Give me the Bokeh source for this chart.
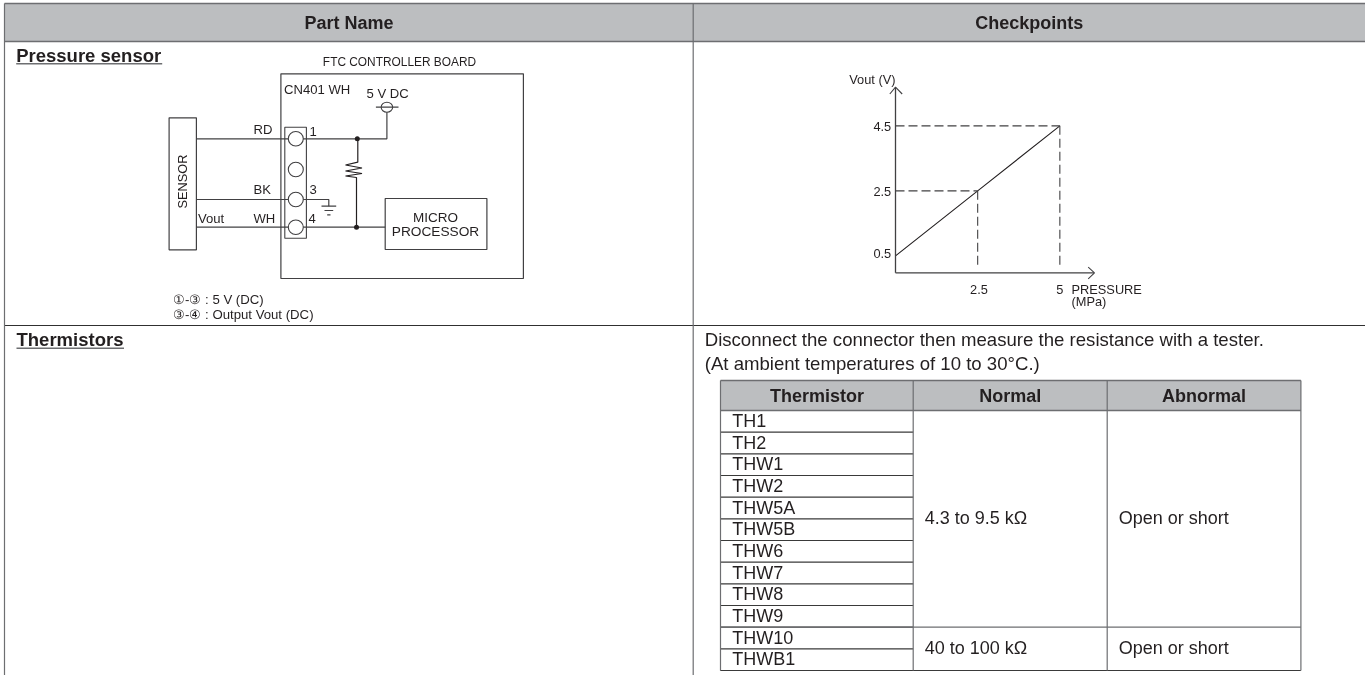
from bokeh.plotting import figure
from bokeh.models import Range1d
from bokeh.core.properties import value
from bokeh.embed import file_html
from bokeh.resources import INLINE
import math

# ---------- data / text ----------
col_headers = ["Part Name", "Checkpoints"]
row_titles = ["Pressure sensor", "Thermistors"]
pressure_mpa = [0, 2.5, 5]
vout_v = [0.5, 2.5, 4.5]
x_tick_values = [2.5, 5]
x_tick_labels = ["2.5", "5"]
y_tick_values = [4.5, 2.5, 0.5]
y_tick_labels = ["4.5", "2.5", "0.5"]
therm_headers = ["Thermistor", "Normal", "Abnormal"]
thermistors = ["TH1", "TH2", "THW1", "THW2", "THW5A", "THW5B", "THW6", "THW7", "THW8", "THW9", "THW10", "THWB1"]
group_rows = [10, 2]
normal_values = ["4.3 to 9.5 k\u03a9", "40 to 100 k\u03a9"]
abnormal_values = ["Open or short", "Open or short"]
notes = ["Disconnect the connector then measure the resistance with a tester.",
         "(At ambient temperatures of 10 to 30\u00b0C.)"]
legend_notes = ["\u2460-\u2462 : 5 V (DC)", "\u2462-\u2463 : Output Vout (DC)"]

# ---------- canvas in page pixels ----------
W, H = 1365, 675
p = figure(width=W, height=H, x_range=Range1d(0, W), y_range=Range1d(H, 0),
           x_axis_type=None, y_axis_type=None, toolbar_location=None,
           output_backend="svg", min_border=0, outline_line_color=None,
           background_fill_color="white", border_fill_color="white",
           styles={"position": "fixed", "left": "0px", "top": "0px"})
p.grid.visible = False

INK = "#231f20"
GRAY = "#6d6e71"
LINE = "#414042"
FILL = "#bcbec0"
FONT = value("Liberation Sans")


def txt(x, y, s, size, align="left", bold=False, color=INK, angle=0):
    p.text(x=[x], y=[y], text=[s], text_font=FONT, text_font_size=f"{size}px",
           text_align=align, text_baseline="middle", text_color=color, angle=angle,
           text_font_style="bold" if bold else "normal")


def seg(xs, ys, w=1.2, color=LINE):
    p.line(x=xs, y=ys, line_width=w, line_color=color)


def box(l, t, r, b, fill="white", w=1.2, color=LINE):
    p.quad(left=[l], right=[r], top=[t], bottom=[b], fill_color=fill, line_color=color, line_width=w)


# ---------- outer table ----------
p.quad(left=[4], right=[W + 2], top=[3], bottom=[41], fill_color=FILL, line_color=None)
seg([4, W], [3, 3], 1.5, GRAY)
seg([4, W], [41, 41], 1.5, GRAY)
seg([4, W], [325, 325], 1.1, "#303030")
seg([4, 4], [3, H], 1.2, GRAY)
seg([692.7, 692.7], [3, H], 1.2, GRAY)
txt(348.5, 22.7, col_headers[0], 18, "center", True)
txt(1028.7, 22.7, col_headers[1], 18, "center", True)

txt(15.7, 55, row_titles[0], 18.5, bold=True)
seg([15.7, 161.7], [63.3, 63.3], 1.4, GRAY)
txt(16, 339, row_titles[1], 18.5, bold=True)
seg([16, 123.5], [347.7, 347.7], 1.6, GRAY)

# ---------- schematic ----------
box(280.4, 73.3, 522.9, 278)
box(168.6, 117.3, 195.9, 249.3)
box(384.7, 198, 486.4, 249)
wire_y = [138.3, 199, 226.7]
box(284.3, 126.7, 305.9, 237.7, fill="white", w=1.1)
for wy in wire_y:
    seg([195.9, 290], [wy, wy])
seg([302, 386.4, 386.4], [138.3, 138.3, 111.7])
seg([302, 384.7], [226.7, 226.7])
seg([302, 328.3, 328.3], [199, 199, 205.7])
seg([321, 335.7], [205.7, 205.7])
seg([324, 332.7], [210, 210])
seg([326.7, 330], [214.3, 214.3])
seg([375.4, 398], [106.7, 106.7])
p.ellipse(x=[386.4], y=[106.7], width=11.5, height=10, fill_alpha=0, line_color=LINE, line_width=1.1)
p.ellipse(x=[295.3, 295.3, 295.3, 295.3], y=[138.3, 169, 199, 226.7], width=15, height=14.5,
          fill_color="white", line_color=LINE, line_width=1.1)
p.scatter(x=[356.8, 356], y=[138.3, 226.7], size=5, marker="circle", fill_color=INK, line_color=None)
seg([357.3, 357.3, 345, 361.5, 345, 361.5, 345, 356, 356],
    [138.3, 161.7, 164.5, 167.5, 170.5, 173, 175.5, 177, 226.7], 1.2, INK)

txt(399, 61, "FTC CONTROLLER BOARD", 11.9, "center")
txt(283.6, 88.7, "CN401 WH", 13.1)
txt(366, 92.5, "5 V DC", 13.1)
txt(253, 128.5, "RD", 13.1)
txt(309, 130.5, "1", 13.1)
txt(253, 188.5, "BK", 13.1)
txt(309, 189, "3", 13.1)
txt(197.5, 217.5, "Vout", 13.1)
txt(253, 217.5, "WH", 13.1)
txt(308, 218, "4", 13.1)
txt(182.3, 181, "SENSOR", 12.8, "center", angle=math.pi / 2)
txt(435, 216.5, "MICRO", 13.5, "center")
txt(435, 231, "PROCESSOR", 13.7, "center")
txt(172.5, 299, legend_notes[0], 13.2)
txt(172.5, 313.7, legend_notes[1], 13.2)

# ---------- Vout vs pressure chart, drawn in its own data units ----------
X0, XS = 895.0, 32.87   # page x of 0 MPa, px per MPa
Y0, YS = 271.6, 32.5    # page y of 0 V, px per V
p.extra_x_ranges["mpa"] = Range1d((0 - X0) / XS, (W - X0) / XS)
p.extra_y_ranges["volt"] = Range1d((Y0 - H) / YS, Y0 / YS)
chart = dict(x_range_name="mpa", y_range_name="volt")

p.line(x=pressure_mpa, y=vout_v, line_color=INK, line_width=1.1, **chart)
dash = dict(line_color=LINE, line_width=1.1, line_dash="9 4", **chart)
p.segment(x0=[0, 0], y0=vout_v[1:], x1=pressure_mpa[1:], y1=vout_v[1:], **dash)
p.segment(x0=pressure_mpa[1:], y0=vout_v[1:], x1=pressure_mpa[1:], y1=[0.1, 0.1], **dash)
for v, lab, dy in zip(y_tick_values, y_tick_labels, [-0.01, -0.03, 0.06]):
    p.text(x=[-0.13], y=[v + dy], text=[lab], text_font=FONT, text_font_size="12.8px", text_align="right",
           text_baseline="middle", text_color=INK, **chart)
for v, lab, dx in zip(x_tick_values, x_tick_labels, [0.04, 0]):
    p.text(x=[v + dx], y=[-0.54], text=[lab], text_font=FONT, text_font_size="12.8px", text_align="center",
           text_baseline="middle", text_color=INK, **chart)
# axes with arrows
seg([895, 895], [272.3, 87], 1.3, LINE)
seg([895, 1093.5], [272.3, 272.3], 1.3, LINE)
seg([889.3, 895, 901.7], [93.5, 86.7, 93.5], 1.1, LINE)
seg([1087.7, 1094, 1087.7], [266.7, 272.3, 278.3], 1.1, LINE)
txt(895, 79.3, "Vout (V)", 12.8, "right")
txt(1071, 289.3, "PRESSURE", 12.8)
txt(1071, 300.7, "(MPa)", 12.8)

# ---------- notes and thermistor table ----------
txt(704.2, 339, notes[0], 18.6)
txt(704.2, 362.7, notes[1], 18.6)

TL, C1, C2, TR = 720, 912.7, 1106.7, 1300.4
TT, HB = 380, 410
RH = 260 / len(thermistors)
p.quad(left=[TL], right=[TR], top=[TT], bottom=[HB], fill_color=FILL, line_color=None)
for name, cx in zip(therm_headers, [816.6, 1009.8, 1203.6]):
    txt(cx, 395.3, name, 18, "center", True)
for i, name in enumerate(thermistors):
    txt(731.7, HB + RH * (i + 0.5) - 0.5, name, 18)
    seg([TL, C1], [HB + RH * (i + 1)] * 2, 1.1, "#3a3a3a")
row = 0
for n, nv, av in zip(group_rows, normal_values, abnormal_values):
    y0, y1 = HB + RH * row, HB + RH * (row + n)
    txt(924.2, (y0 + y1) / 2 - 1, nv, 18)
    txt(1118.3, (y0 + y1) / 2 - 1, av, 18)
    seg([TL, TR], [y1, y1], 1.2, GRAY if row == 0 else "#3a3a3a")
    row += n
seg([TL, TR], [TT, TT], 1.5, GRAY)
seg([TL, TR], [HB, HB], 1.5, GRAY)
for x in [TL, C1, C2, TR]:
    seg([x, x], [TT, 670], 1.2, GRAY)

open("out.html", "w").write(file_html(p, INLINE))
